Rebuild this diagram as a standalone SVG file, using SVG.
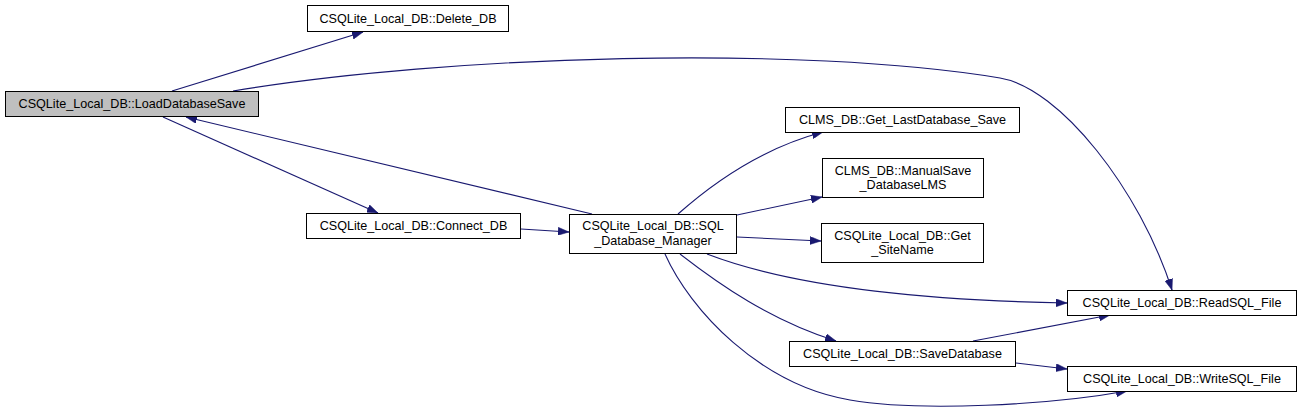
<svg xmlns="http://www.w3.org/2000/svg" width="1300" height="416" viewBox="0 0 1300 416">
<style>
.box{fill:#ffffff;stroke:#000000;stroke-width:1}
.sel{fill:#bfbfbf}
.lbl{font-family:"Liberation Sans",Arial,sans-serif;font-size:12.6px;fill:#000000;text-anchor:middle}
.edge{fill:none;stroke:#191970;stroke-width:1.1;marker-end:url(#arr)}
</style>
<defs>
<marker id="arr" markerUnits="userSpaceOnUse" markerWidth="11" markerHeight="8" refX="11" refY="4" orient="auto">
<path d="M0,0 L11,4 L0,8 z" fill="#191970" stroke="#191970" stroke-width="0.5"/>
</marker>
</defs>
<rect width="1300" height="416" fill="#ffffff"/>
<g id="connectors">
<path class="edge" d="M172,91 L363,32"/>
<path class="edge" d="M233,91 C450,55 800,45 1000,78 C1060,88 1140,190 1172,290"/>
<path class="edge" d="M592,214 L186,117"/>
<path class="edge" d="M163,117 L378,213"/>
<path class="edge" d="M521,229 L569,232"/>
<path class="edge" d="M678,214 C705,190 755,150 823,132"/>
<path class="edge" d="M737,215 L822,197"/>
<path class="edge" d="M737,237 L821,241"/>
<path class="edge" d="M707,254 C780,282 900,300 1067,303"/>
<path class="edge" d="M680,254 C720,285 770,320 836,341"/>
<path class="edge" d="M665,254 C690,310 760,385 850,400 C920,412 1050,405 1127,391"/>
<path class="edge" d="M973,341 L1110,315"/>
<path class="edge" d="M1016,363 L1067,369"/>
</g>
<g id="node-LoadDatabaseSave">
<rect class="box sel" x="5.5" y="91.5" width="253" height="25"/>
<text class="lbl" x="132" y="108">CSQLite_Local_DB::LoadDatabaseSave</text>
</g>
<g id="node-Delete_DB">
<rect class="box" x="307.5" y="5.5" width="201" height="26"/>
<text class="lbl" x="408" y="22.5">CSQLite_Local_DB::Delete_DB</text>
</g>
<g id="node-Connect_DB">
<rect class="box" x="306.5" y="213.5" width="214" height="25"/>
<text class="lbl" x="413.5" y="230">CSQLite_Local_DB::Connect_DB</text>
</g>
<g id="node-SQL_Database_Manager">
<rect class="box" x="569.5" y="214.5" width="167" height="39"/>
<text class="lbl" x="653" y="230">CSQLite_Local_DB::SQL</text>
<text class="lbl" x="653" y="245">_Database_Manager</text>
</g>
<g id="node-Get_LastDatabase_Save">
<rect class="box" x="785.5" y="107.5" width="234" height="25"/>
<text class="lbl" x="902.5" y="124">CLMS_DB::Get_LastDatabase_Save</text>
</g>
<g id="node-ManualSave_DatabaseLMS">
<rect class="box" x="822.5" y="158.5" width="161" height="39"/>
<text class="lbl" x="903" y="174.5">CLMS_DB::ManualSave</text>
<text class="lbl" x="903" y="189">_DatabaseLMS</text>
</g>
<g id="node-Get_SiteName">
<rect class="box" x="821.5" y="223.5" width="162" height="39"/>
<text class="lbl" x="902.5" y="239.5">CSQLite_Local_DB::Get</text>
<text class="lbl" x="902.5" y="254">_SiteName</text>
</g>
<g id="node-ReadSQL_File">
<rect class="box" x="1067.5" y="290.5" width="229" height="25"/>
<text class="lbl" x="1182" y="307">CSQLite_Local_DB::ReadSQL_File</text>
</g>
<g id="node-SaveDatabase">
<rect class="box" x="789.5" y="341.5" width="226" height="25"/>
<text class="lbl" x="902.5" y="358">CSQLite_Local_DB::SaveDatabase</text>
</g>
<g id="node-WriteSQL_File">
<rect class="box" x="1067.5" y="366.5" width="229" height="25"/>
<text class="lbl" x="1182" y="383">CSQLite_Local_DB::WriteSQL_File</text>
</g>
</svg>
